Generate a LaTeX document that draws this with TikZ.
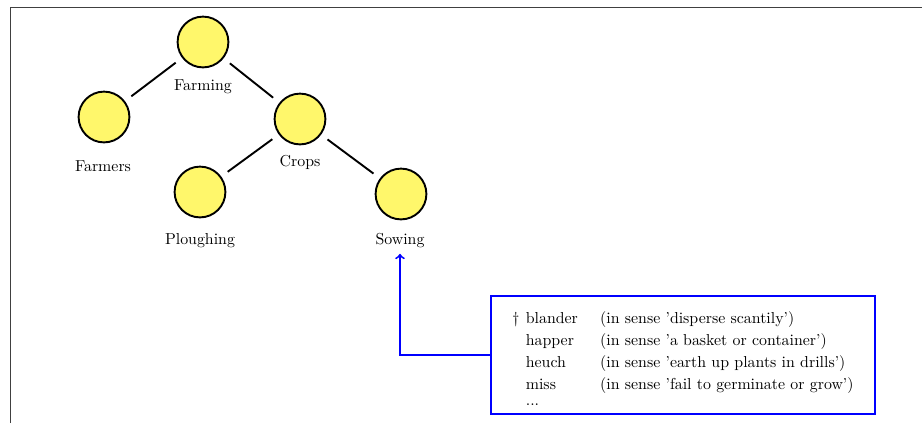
\documentclass[tikz,border=0pt]{standalone}
\begin{document}
\begin{tikzpicture}[x=0.63pt,y=-0.63pt,
        leaf/.style={circle,draw=black,line width=1.2pt,fill=yellow!58,minimum size=32pt,inner sep=0pt},
        link/.style={line width=1.2pt,shorten <=5pt,shorten >=5pt}]
            \useasboundingbox (0,0) rectangle (922,423);
            \draw[black!75,line width=0.6pt] (10,423) -- (10,7) -- (922,7);

            % tree
            \node[leaf] (farming) at (203,42) {};
            \node at (203,87) (farminglbl) {Farming};

            \node[leaf] (farmers) at (104,117) {};
            \node at (103,166) (farmerslbl) {Farmers};

            \node[leaf] (crops) at (300,119) {};
            \node at (300,162) (cropslbl) {Crops};

            \node[leaf] (ploughing) at (200,192) {};
            \node at (200,241) (ploughinglbl) {Ploughing};

            \node[leaf] (sowing) at (401,194) {};
            \node at (400,241) (sowinglbl) {Sowing};

            \draw[link] (farming) -- (farmers);
            \draw[link] (farming) -- (crops);
            \draw[link] (crops) -- (ploughing);
            \draw[link] (crops) -- (sowing);

            % senses box
            \node[draw=blue,line width=1.5pt,minimum width=242pt,minimum height=74pt] (senses) at (683,355) {%
                \renewcommand{\arraystretch}{1.16}%
                \raisebox{-3.2pt}[\height][\depth]{\begin{tabular}{@{}l@{\hspace{4pt}}l@{\hspace{14pt}}l@{}}
                    $\dagger$ & blander & (in sense 'disperse scantily') \\
                    & happer & (in sense 'a basket or container') \\
                    & heuch & (in sense 'earth up plants in drills') \\
                    & miss & (in sense 'fail to germinate or grow') \\[-4pt]
                    & ... & \\
                \end{tabular}}};

            \draw[blue,line width=1.2pt,->] (senses.west) -| (sowinglbl.south);
        \end{tikzpicture}
\end{document}
